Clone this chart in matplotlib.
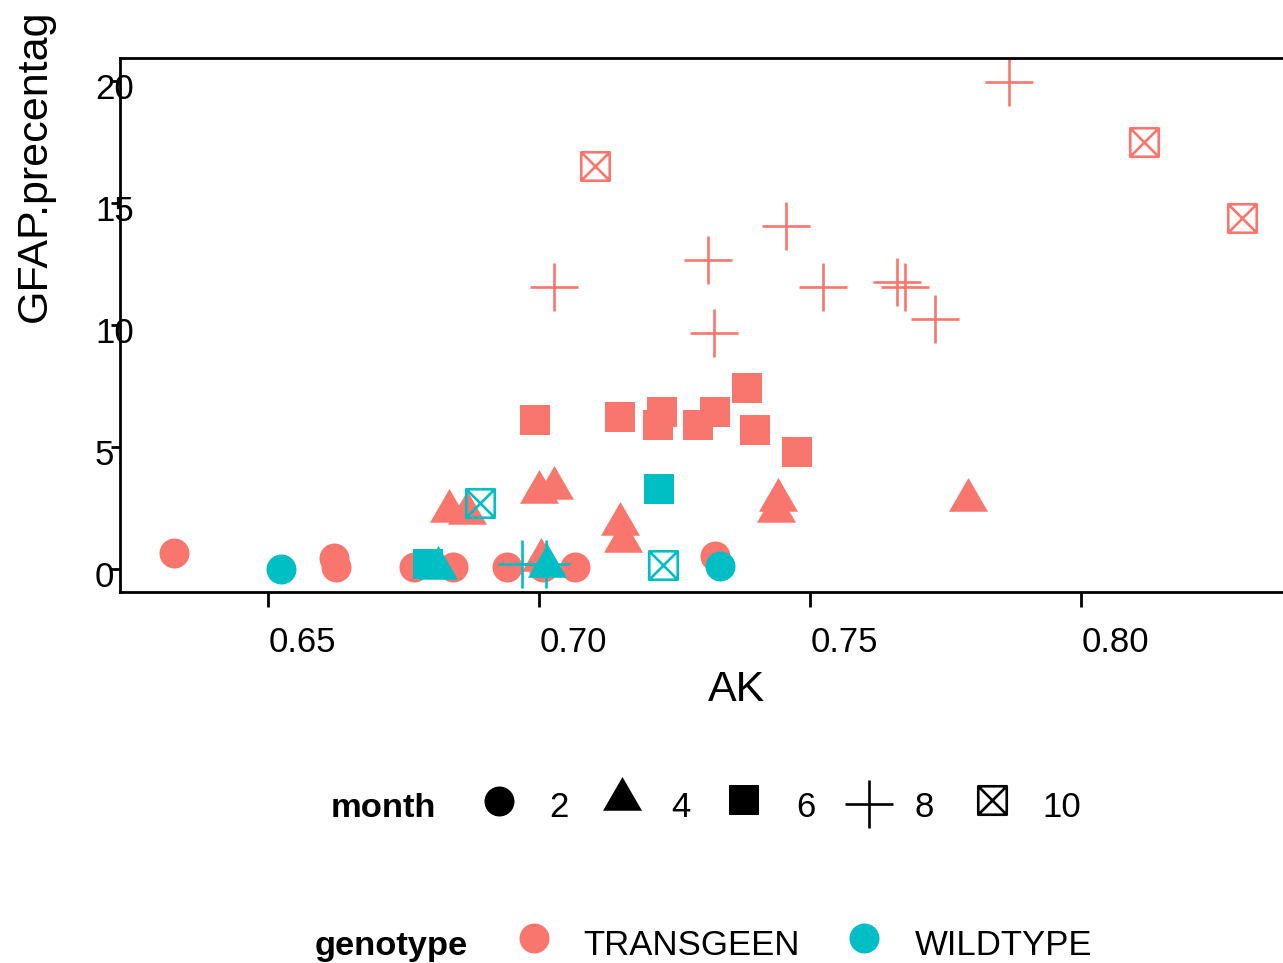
import matplotlib

matplotlib.use("Agg")
import matplotlib.pyplot as plt  # noqa: E402
import numpy as np
from matplotlib.path import Path
from matplotlib.transforms import ScaledTranslation

plt.rcParams["font.family"] = ["Liberation Sans", "DejaVu Sans"]

# one row per animal: genotype, age in months, AK and GFAP percentage
genotype = ["TRANSGEEN"] * 40 + ["WILDTYPE"] * 10
month = ([2] * 9 + [4] * 10 + [6] * 9 + [8] * 9 + [10] * 3
         + [2, 2, 4, 4, 6, 6, 8, 8, 10, 10])
ak = [
    # TRANSGEEN
    0.6326, 0.6621, 0.6626, 0.6769, 0.6841, 0.6940, 0.7007, 0.7066, 0.7324,
    0.6834, 0.6867, 0.7000, 0.7027, 0.7149, 0.7154, 0.7440, 0.7437, 0.7791, 0.7003,
    0.6992, 0.7149, 0.7227, 0.7219, 0.7293, 0.7324, 0.7383, 0.7398, 0.7476,
    0.7027, 0.7312, 0.7322, 0.7455, 0.7523, 0.7661, 0.7675, 0.7730, 0.7867,
    0.7103, 0.8116, 0.8297,
    # WILDTYPE
    0.6524, 0.7334, 0.6813, 0.7014, 0.6794, 0.7221, 0.6968, 0.7012, 0.6891, 0.7228,
]
gfap = [
    # TRANSGEEN
    0.68, 0.45, 0.11, 0.11, 0.11, 0.11, 0.09, 0.11, 0.56,
    2.39, 2.29, 3.18, 3.35, 1.87, 1.18, 2.86, 2.41, 2.82, 0.40,
    6.12, 6.25, 6.45, 5.91, 5.91, 6.45, 7.43, 5.71, 4.81,
    11.56, 12.66, 9.70, 14.08, 11.56, 11.79, 11.56, 10.25, 19.98,
    16.54, 17.52, 14.41,
    # WILDTYPE
    0.02, 0.12, 0.04, 0.15, 0.20, 3.29, 0.20, 0.20, 2.70, 0.18,
]

genotype_levels = ["TRANSGEEN", "WILDTYPE"]
genotype_colors = ["#F8766D", "#00BFC4"]
month_levels = [2, 4, 6, 8, 10]

x_ticks = [0.65, 0.70, 0.75, 0.80]
x_tick_labels = ["0.65", "0.70", "0.75", "0.80"]
y_ticks = [0, 5, 10, 15, 20]

W, H = 1283, 963

# R-style point shapes: triangle centred on its centroid, square with an X
s3 = np.sqrt(3)
TRIANGLE = Path([(0, 2), (-s3, -1), (s3, -1), (0, 2)],
                [Path.MOVETO, Path.LINETO, Path.LINETO, Path.CLOSEPOLY])
BOXX = Path(
    [(-1, -1), (1, -1), (1, 1), (-1, 1), (-1, -1),
     (-1, -1), (1, 1), (-1, 1), (1, -1)],
    [Path.MOVETO, Path.LINETO, Path.LINETO, Path.LINETO, Path.CLOSEPOLY,
     Path.MOVETO, Path.LINETO, Path.MOVETO, Path.LINETO],
)

# month -> (marker, size, filled)
SHAPES = {
    2: ("o", 21.6, True),
    4: (TRIANGLE, 32.4, True),
    6: ("s", 22.3, True),
    8: ("+", 34.0, False),
    10: (BOXX, 20.5, False),
}


def draw_point(ax, x, y, m, color):
    marker, ms, filled = SHAPES[m]
    if filled:
        ax.plot(x, y, ls="none", marker=marker, ms=ms, mfc=color, mec=color,
                mew=0, clip_on=False)
    else:
        ax.plot(x, y, ls="none", marker=marker, ms=ms, mfc="none", mec=color,
                mew=1.9, clip_on=False)


fig = plt.figure(figsize=(W / 100, H / 100), dpi=100)
ax = fig.add_axes([120 / W, (H - 592) / H, (W - 120) / W, (592 - 58) / H])

ak_arr = np.array(ak)
gfap_arr = np.array(gfap)
geno_arr = np.array(genotype)
month_arr = np.array(month)

for g, color in zip(genotype_levels, genotype_colors):
    for m in month_levels:
        sel = (geno_arr == g) & (month_arr == m)
        draw_point(ax, ak_arr[sel], gfap_arr[sel], m, color)

ax.set_xlim(0.62266, 0.83723)
ax.set_ylim(-0.93, 20.955)

for side in ("top", "left", "bottom"):
    ax.spines[side].set_linewidth(2.0)
ax.spines["right"].set_visible(False)

ax.set_xticks(x_ticks)
ax.set_xticklabels(x_tick_labels, fontsize=25)
for lab in ax.get_xticklabels():
    lab.set_horizontalalignment("left")
ax.tick_params(axis="x", length=10.8, width=2.0, pad=13.7)

ax.set_yticks(y_ticks)
ax.tick_params(axis="y", length=6.5, width=2.0, labelleft=False)
# tick labels sit on top of the axis line, left-aligned
ylab_tf = ax.get_yaxis_transform() + ScaledTranslation(-0.25, -0.18, fig.dpi_scale_trans)
for v in y_ticks:
    ax.text(0, v, str(v), transform=ylab_tf, ha="left", va="baseline", fontsize=25)

fig.text(737 / W, 1 - 701 / H, "AK", ha="center", va="baseline", fontsize=31)
fig.text(46 / W, 1 - 322 / H, "GFAP.precentag", rotation=90, rotation_mode="anchor",
         ha="left", va="baseline", fontsize=31)

# legends below the panel, laid out in pixel coordinates
leg = fig.add_axes([0, 0, 1, 1])
leg.set_xlim(0, W)
leg.set_ylim(H, 0)
leg.axis("off")

leg.text(331, 817, "month", fontsize=24.8, fontweight="bold", ha="left", va="baseline")
month_keys = [(498.5, 800.7), (622, 799.3), (744, 800), (868.5, 804), (992, 800)]
month_text_x = [549, 671, 796, 915, 1042]
for m, (kx, ky), tx in zip(month_levels, month_keys, month_text_x):
    draw_point(leg, [kx], [ky], m, "black")
    leg.text(tx, 817, str(m), fontsize=25, ha="left", va="baseline")

leg.text(315, 955, "genotype", fontsize=24.8, fontweight="bold", ha="left", va="baseline")
for g, color, kx, tx in zip(genotype_levels, genotype_colors, [534, 864], [583, 915]):
    leg.plot([kx], [938], ls="none", marker="o", ms=21.6, mfc=color, mec=color, mew=0)
    leg.text(tx, 955, g, fontsize=25, ha="left", va="baseline")

fig.savefig("out.png", dpi=100)
plt.close(fig)
